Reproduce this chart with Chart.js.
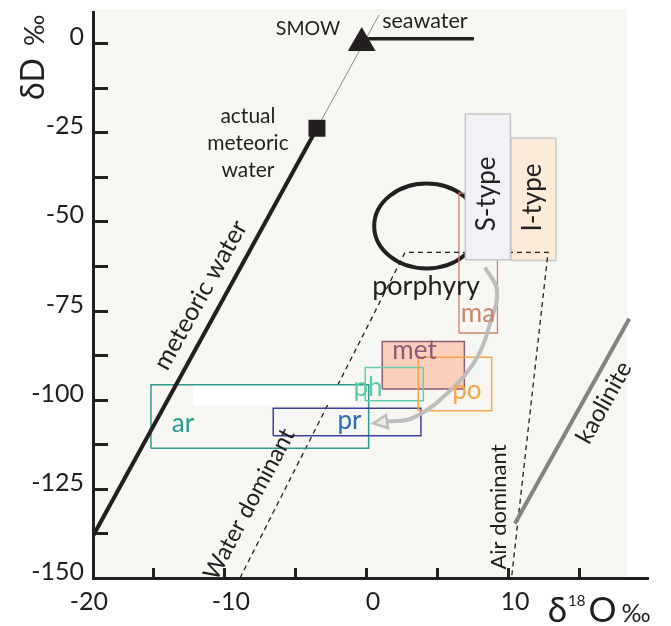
<!DOCTYPE html>
<html>
<head>
<meta charset="utf-8">
<script src="https://cdn.jsdelivr.net/npm/chart.js@4/dist/chart.umd.min.js"></script>
<style>
  html, body { margin: 0; padding: 0; background: #ffffff; }
  canvas { display: block; }
</style>
</head>
<body>
<canvas id="chart" width="671" height="626"></canvas>
<script>
// ---------- values (δ18O ‰ on x, δD ‰ on y) ----------
const X_TICKS = [-20, -10, 0, 10];
const Y_TICKS = [0, -25, -50, -75, -100, -125, -150];

const SMOW = [{ x: -0.3, y: 0 }];
const ACTUAL_METEORIC = [{ x: -3.45, y: -23.9 }];
const METEORIC_WATER_LINE = [{ x: -19.22, y: -138.2 }, { x: -3.45, y: -23.9 }];
const SMOW_TIE_LINE = [{ x: -3.45, y: -23.9 }, { x: 0.92, y: 7.9 }];
const SEAWATER_LINE = [{ x: -0.3, y: 1.2 }, { x: 7.6, y: 1.2 }];
const KAOLINITE_LINE = [{ x: 10.49, y: -134.7 }, { x: 18.54, y: -77.3 }];
const MIXING_LINES = [
  { x: -8.87, y: -150 }, { x: 2.75, y: -58.7 },
  { x: 12.82, y: -58.7 }, { x: 10.25, y: -150 }
];
const EVOLUTION_PATH = [
  { x: 8.38, y: -62.9 }, { x: 9.23, y: -69.4 }, { x: 8.73, y: -78.7 },
  { x: 7.82, y: -88.2 }, { x: 5.92, y: -97.5 }, { x: 3.31, y: -105.1 },
  { x: 1.34, y: -106.2 }
];
const PORPHYRY_CENTRE = [4.27, -51.3];
const PORPHYRY_RADII = [3.69, 11.9];

const FIELDS     = ['S-type', 'I-type', 'ma',   'met',  'ph',   'po',   'pr',   'ar',   'gap'];
const FIELD_O_LO = [7.0,      10.21,    6.55,   1.15,   -0.05,  3.68,   -6.53,  -15.14, -12.17];
const FIELD_O_HI = [10.17,    13.38,    9.26,   6.93,   4.04,   8.85,   3.87,   0.19,   -0.70];
const FIELD_D_LO = [-60.8,    -61.0,    -81.3,  -97.0,  -100.3, -103.1, -110.1, -113.6, -101.5];
const FIELD_D_HI = [-19.9,    -26.7,    -42.1,  -83.7,  -91.0,  -88.1,  -102.4, -95.8,  -96.1];

// ---------- look ----------
const INK = '#231f20';
const FONT = 'Lato, "Open Sans", sans-serif';
const X_MIN = -19.22, X_MAX = 19.86, Y_MIN = -150, Y_MAX = 8.7;
const PANEL_O_MAX = 18.4;

const FIELD_STYLE = {
  'S-type': { stroke: '#c6c6c6', fill: '#f1f2f5', width: 1.5 },
  'I-type': { stroke: '#c8c8c8', fill: '#fdebd9', width: 1.5 },
  'ma':     { stroke: '#c9846a', width: 1.3 },
  'met':    { stroke: '#8d5c77', fill: '#fbcfbb', width: 1.5 },
  'ph':     { stroke: '#66ccae', width: 1.5 },
  'po':     { stroke: '#f8a54b', width: 1.5 },
  'pr':     { stroke: '#3e40a0', width: 1.5 },
  'ar':     { stroke: '#2e9a8e', width: 1.5 },
  'gap':    { fill: '#ffffff', width: 0 }
};

const NOTES = [
  { text: 'SMOW', o: -4.08, d: 2.25, size: 19.5 },
  { text: 'seawater', o: 4.15, d: 4.1, size: 21.5 },
  { text: 'actual', o: -8.31, d: -22.4, size: 21 },
  { text: 'meteoric', o: -8.31, d: -30.1, size: 21 },
  { text: 'water', o: -8.31, d: -37.6, size: 21 },
  { text: 'meteoric water', o: -11.65, d: -70.7, size: 25, rot: -61, mid: true },
  { text: 'porphyry', o: 4.23, d: -70.6, size: 27 },
  { text: 'S-type', o: 8.5, d: -42.3, size: 26, rot: -90, mid: true },
  { text: 'I-type', o: 11.76, d: -43.3, size: 26, rot: -90, mid: true },
  { text: 'ma', o: 7.89, d: -78.3, size: 26, color: '#c9846a' },
  { text: 'met', o: 3.42, d: -88.5, size: 26, color: '#8a5a74' },
  { text: 'ph', o: 0.14, d: -98.9, size: 26, color: '#5ecaa8' },
  { text: 'po', o: 7.11, d: -99.7, size: 26, color: '#f8a54b' },
  { text: 'pr', o: -1.16, d: -108.2, size: 26, color: '#2a6fb2' },
  { text: 'ar', o: -12.89, d: -109.2, size: 26, color: '#2a9a8e' },
  { text: 'Water dominant', o: -8.22, d: -129.3, size: 23.5, rot: -62, mid: true },
  { text: 'Air dominant', o: 9.37, d: -130.1, size: 22, rot: -90, mid: true },
  { text: 'kaolinite', o: 16.76, d: -100.8, size: 24, rot: -61, mid: true }
];

// ---------- datasets ----------
function lineSet(points, color, width, extra) {
  return Object.assign({
    data: points, showLine: true, borderColor: color, borderWidth: width,
    pointRadius: 0, fill: false, tension: 0
  }, extra || {});
}

function fieldSet(name) {
  const i = FIELDS.indexOf(name);
  const s = FIELD_STYLE[name];
  const pts = [
    { x: FIELD_O_LO[i], y: FIELD_D_LO[i] }, { x: FIELD_O_HI[i], y: FIELD_D_LO[i] },
    { x: FIELD_O_HI[i], y: FIELD_D_HI[i] }, { x: FIELD_O_LO[i], y: FIELD_D_HI[i] },
    { x: FIELD_O_LO[i], y: FIELD_D_LO[i] }
  ];
  return lineSet(pts, s.stroke || 'rgba(0,0,0,0)', s.width, {
    fill: s.fill ? 'shape' : false,
    backgroundColor: s.fill || 'rgba(0,0,0,0)',
    borderJoinStyle: 'miter'
  });
}

// first entry is drawn on top
const datasets = [
  { data: SMOW, pointStyle: 'triangle', pointRadius: 16, backgroundColor: INK, borderColor: INK, borderWidth: 0 },
  { data: ACTUAL_METEORIC, pointStyle: 'rect', pointRadius: 12, backgroundColor: INK, borderColor: INK, borderWidth: 0 },
  lineSet(METEORIC_WATER_LINE, INK, 4),
  lineSet(SMOW_TIE_LINE, '#8c8c8c', 1),
  lineSet(SEAWATER_LINE, INK, 3.5),
  lineSet(KAOLINITE_LINE, '#838383', 4),
  lineSet(EVOLUTION_PATH, '#bdbdbd', 4, { tension: 0.4 }),
  fieldSet('po'),
  fieldSet('ph'),
  fieldSet('pr'),
  fieldSet('met'),
  fieldSet('ar'),
  fieldSet('gap'),
  fieldSet('S-type'),
  lineSet(MIXING_LINES, INK, 1.3, { borderDash: [5, 4] }),
  fieldSet('I-type'),
  fieldSet('ma')
];

// ---------- drawing helpers ----------
const decorations = {
  id: 'decorations',
  beforeDraw(chart) {
    const { ctx, chartArea, scales: { x } } = chart;
    ctx.save();
    ctx.fillStyle = '#f6f6f2';
    const right = x.getPixelForValue(PANEL_O_MAX);
    ctx.fillRect(chartArea.left, chartArea.top - 3, right - chartArea.left, chartArea.bottom - chartArea.top + 3);
    ctx.restore();
  },
  beforeDatasetsDraw(chart) {
    // porphyry field outline
    const { ctx, scales: { x, y } } = chart;
    const cx = x.getPixelForValue(PORPHYRY_CENTRE[0]);
    const cy = y.getPixelForValue(PORPHYRY_CENTRE[1]);
    const rx = Math.abs(x.getPixelForValue(PORPHYRY_CENTRE[0] + PORPHYRY_RADII[0]) - cx);
    const ry = Math.abs(y.getPixelForValue(PORPHYRY_CENTRE[1] + PORPHYRY_RADII[1]) - cy);
    ctx.save();
    ctx.beginPath();
    ctx.ellipse(cx, cy, rx, ry, 0, 0, Math.PI * 2);
    ctx.lineWidth = 4;
    ctx.strokeStyle = INK;
    ctx.stroke();
    ctx.restore();
  },
  afterDatasetsDraw(chart) {
    const { ctx, scales: { x, y } } = chart;
    // arrow head at the end of the evolution path
    const n = EVOLUTION_PATH.length;
    const ex = x.getPixelForValue(EVOLUTION_PATH[n - 1].x), ey = y.getPixelForValue(EVOLUTION_PATH[n - 1].y);
    const px = x.getPixelForValue(EVOLUTION_PATH[n - 2].x), py = y.getPixelForValue(EVOLUTION_PATH[n - 2].y);
    const a = Math.atan2(ey - py, ex - px);
    const len = 14, half = 6.5;
    const tx = ex + Math.cos(a) * (len - 2), ty = ey + Math.sin(a) * (len - 2);
    const bx = ex - Math.cos(a) * 2, by = ey - Math.sin(a) * 2;
    ctx.save();
    ctx.beginPath();
    ctx.moveTo(tx, ty);
    ctx.lineTo(bx - Math.sin(a) * half, by + Math.cos(a) * half);
    ctx.lineTo(bx + Math.sin(a) * half, by - Math.cos(a) * half);
    ctx.closePath();
    ctx.fillStyle = '#ececec';
    ctx.fill();
    ctx.lineWidth = 2.5;
    ctx.strokeStyle = '#bdbdbd';
    ctx.lineJoin = 'miter';
    ctx.stroke();
    ctx.restore();

    // text notes
    ctx.save();
    for (const n of NOTES) {
      const nx = x.getPixelForValue(n.o), ny = y.getPixelForValue(n.d);
      ctx.save();
      ctx.translate(nx, ny);
      if (n.rot) ctx.rotate(n.rot * Math.PI / 180);
      ctx.font = `${n.size}px ${FONT}`;
      ctx.fillStyle = n.color || INK;
      ctx.textAlign = 'center';
      ctx.textBaseline = n.mid ? 'middle' : 'alphabetic';
      ctx.fillText(n.text, 0, 0);
      ctx.restore();
    }
    ctx.restore();
  },
  afterDraw(chart) {
    const { ctx, chartArea, scales: { x, y } } = chart;
    ctx.save();
    ctx.strokeStyle = INK;
    ctx.lineWidth = 3;
    // inner ticks on the δD axis
    for (let v = Y_MIN; v <= 0.001; v += 12.5) {
      const py = Math.round(y.getPixelForValue(v)) + 0.5;
      ctx.beginPath();
      ctx.moveTo(chartArea.left, py);
      ctx.lineTo(chartArea.left + 15, py);
      ctx.stroke();
    }
    // inner ticks on the δ18O axis
    for (let v = -15; v <= 15; v += 5) {
      const px = Math.round(x.getPixelForValue(v)) + 0.5;
      ctx.beginPath();
      ctx.moveTo(px, chartArea.bottom);
      ctx.lineTo(px, chartArea.bottom - 10);
      ctx.stroke();
    }
    ctx.restore();

    // axis titles
    ctx.save();
    ctx.fillStyle = INK;
    ctx.textBaseline = 'alphabetic';
    ctx.textAlign = 'left';
    // δ18O ‰
    let cx = x.getPixelForValue(12.8);
    const base = chart.height - 4;
    ctx.font = `35px ${FONT}`;
    ctx.fillText('δ', cx, base);
    cx += ctx.measureText('δ').width + 1;
    ctx.font = `15px ${FONT}`;
    ctx.fillText('18', cx, base - 16);
    cx += ctx.measureText('18').width + 3;
    ctx.font = `35px ${FONT}`;
    ctx.fillText('O', cx, base);
    cx += ctx.measureText('O').width + 5;
    ctx.font = `25px ${FONT}`;
    ctx.fillText('‰', cx, base);
    ctx.restore();

    // δD ‰
    ctx.save();
    ctx.fillStyle = INK;
    ctx.translate(43.5, y.getPixelForValue(-16));
    ctx.rotate(-Math.PI / 2);
    ctx.textAlign = 'left';
    ctx.textBaseline = 'alphabetic';
    ctx.font = `32px ${FONT}`;
    ctx.fillText('δD', 0, 0);
    const w = ctx.measureText('δD').width;
    ctx.font = `27px ${FONT}`;
    ctx.fillText('‰', w + 12, 0);
    ctx.restore();
  }
};

new Chart(document.getElementById('chart').getContext('2d'), {
  type: 'scatter',
  data: { datasets },
  options: {
    responsive: false,
    animation: false,
    events: [],
    layout: { autoPadding: false, padding: { top: 12, right: 23, bottom: 0, left: 0 } },
    plugins: { legend: { display: false }, tooltip: { enabled: false } },
    scales: {
      x: {
        type: 'linear', min: X_MIN, max: X_MAX,
        afterBuildTicks: s => { s.ticks = X_TICKS.map(v => ({ value: v })); },
        afterFit: s => { s.height = 48; s.paddingLeft = 0; s.paddingRight = 0; },
        grid: { display: false, drawTicks: false },
        border: { display: true, color: INK, width: 3 },
        ticks: { font: { family: FONT, size: 25 }, color: INK, padding: 9, labelOffset: 7, maxRotation: 0, autoSkip: false }
      },
      y: {
        type: 'linear', min: Y_MIN, max: Y_MAX,
        afterBuildTicks: s => { s.ticks = Y_TICKS.map(v => ({ value: v })); },
        afterFit: s => { s.width = 93; s.paddingTop = 0; s.paddingBottom = 0; },
        grid: { display: false, drawTicks: false },
        border: { display: true, color: INK, width: 3 },
        ticks: { font: { family: FONT, size: 25 }, color: INK, padding: 9, labelOffset: -6, autoSkip: false }
      }
    }
  },
  plugins: [decorations]
});
</script>
</body>
</html>
